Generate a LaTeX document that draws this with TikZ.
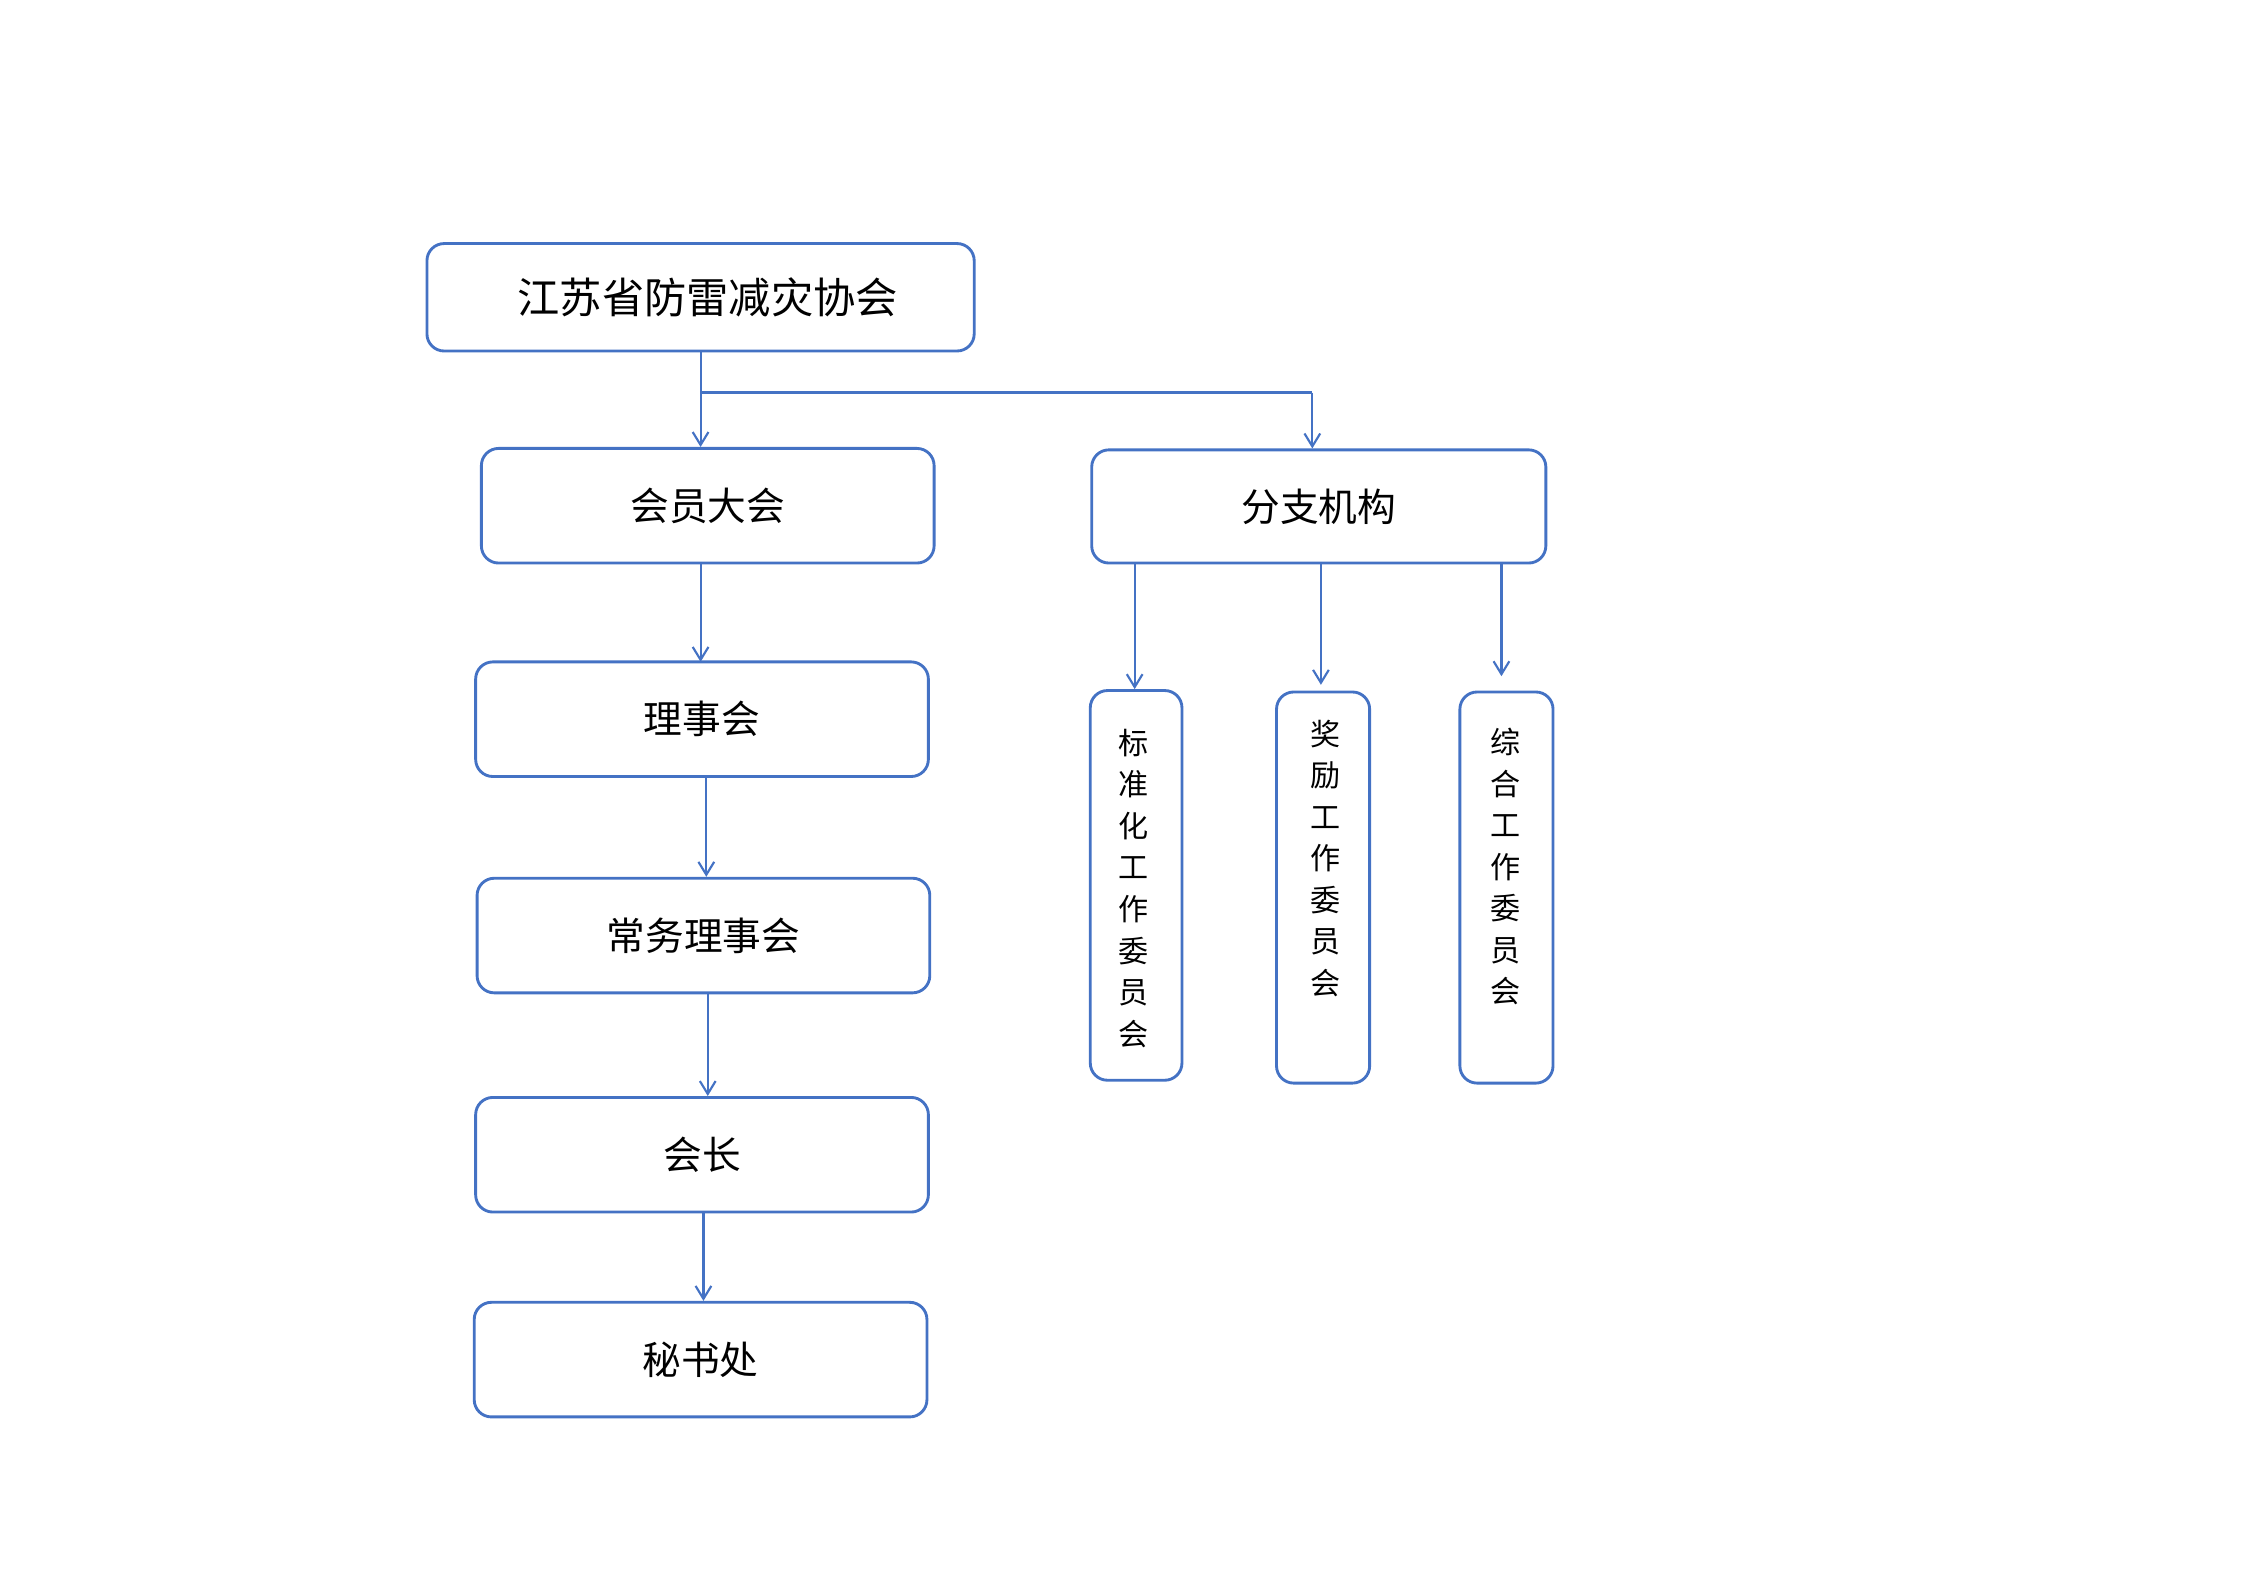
\documentclass[tikz,border=0pt]{standalone}
\usepackage{fontspec}
\newfontfamily\cjk{Noto Sans CJK SC}
\usetikzlibrary{arrows.meta,calc}
\definecolor{lineblue}{RGB}{68,114,196}
\begin{document}
\begin{tikzpicture}[x=1pt,y=-1pt,
  box/.style={draw=lineblue,line width=2pt,rounded corners=12pt,inner sep=0pt},
  hbox/.style={box,minimum width=316pt,minimum height=80pt,font=\cjk\fontsize{27}{30}\selectfont},
  vbox/.style={box,minimum width=65pt,minimum height=273pt},
  vtext/.style={inner sep=0pt,align=center,font=\cjk\fontsize{21}{29}\selectfont},
  conn/.style={draw=lineblue,line width=1.5pt},
  arr/.style={conn,-{Straight Barb[length=9pt,width=11pt,line width=1.5pt]}}]
\useasboundingbox (0,0) rectangle (1567,1108);
\node[box,minimum width=382pt,minimum height=75pt,font=\cjk\fontsize{29.5}{32}\selectfont] (top) at (489,207.5) {\hspace{10pt}江苏省防雷减灾协会};
\node[hbox] (hy) at (494,353) {会员大会};
\node[hbox,minimum width=317pt,minimum height=79pt] (fz) at (920.5,353.5) {分支机构};
\node[hbox] (ls) at (490,502) {理事会};
\node[hbox] (cw) at (491,653) {常务理事会};
\node[hbox] (hz) at (490,806) {会长};
\node[hbox] (ms) at (489,949) {秘书处};
\node[vbox,minimum width=64pt,minimum height=272pt] (v1) at (793,618) {};
\node[vbox] (v2) at (923.5,619.5) {};
\node[vbox] (v3) at (1051.5,619.5) {};
\node[vtext] (v1t) at (791,620) {标\\准\\化\\工\\作\\委\\员\\会};
\node[vtext] (v2t) at (925,599) {奖\\励\\工\\作\\委\\员\\会};
\node[vtext] (v3t) at (1051,605) {综\\合\\工\\作\\委\\员\\会};
% connectors
\coordinate (j) at (489,274);
\coordinate (jr) at (916,274);
\draw[arr] (top.south) -- (top.south |- hy.north);
\draw[conn,line width=2pt] (j) -- (jr);
\draw[arr] (jr) -- (jr |- fz.north);
\draw[arr] (489,393) -- (489,462);
\draw[arr] (ls.south -| 493,0) -- (cw.north -| 493,0);
\draw[arr] (cw.south -| 494,0) -- (hz.north -| 494,0);
\draw[arr] (hz.south -| 491,0) -- (ms.north -| 491,0);
\draw[arr] (fz.south -| 792,0) -- (v1.north -| 792,0);
\draw[arr] (fz.south -| 922,0) -- (922,478);
\draw[arr] (fz.south -| 1048,0) -- (1048,472);
\end{tikzpicture}
\end{document}
